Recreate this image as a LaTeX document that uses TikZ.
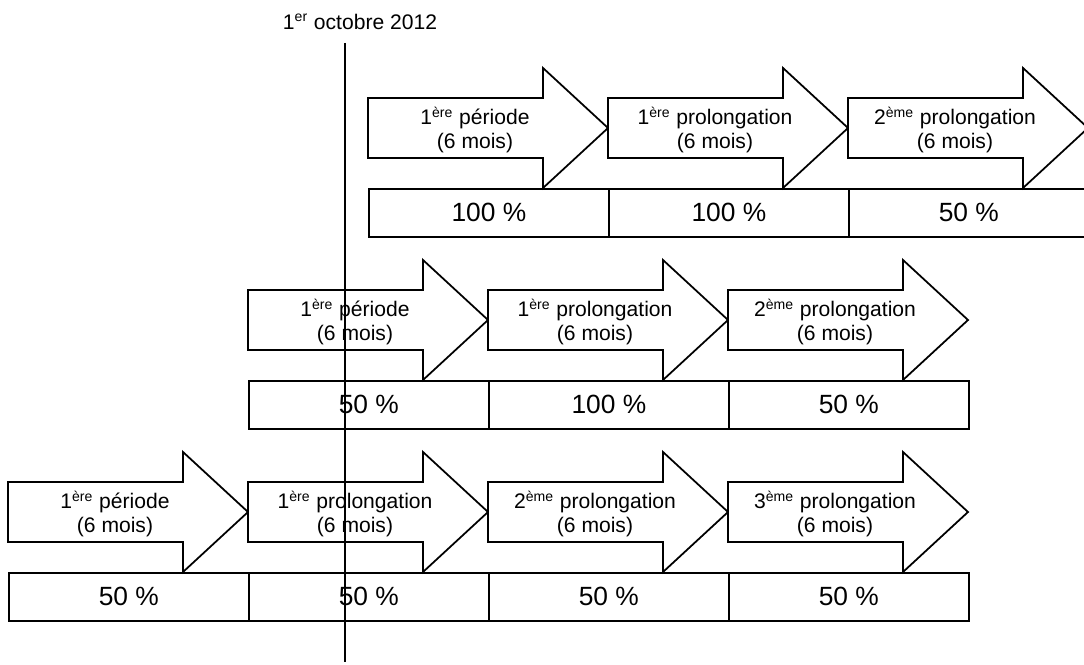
\documentclass[tikz,border=0pt]{standalone}
\usepackage{fontspec}
\setmainfont{Liberation Sans}
\usetikzlibrary{positioning}

\tikzset{
  fleche/.style={draw,fill=white},
  periode/.style={align=center,inner sep=0pt,font=\fontsize{12}{13.5}\selectfont},
  taux/.style={draw,anchor=north west,minimum width=4.8cm,minimum height=0.96cm,
    inner sep=0pt,font=\fontsize{15}{18}\selectfont}
}

% #1 name, #2 x, #3 y (middle of the arrow), #4 label, #5 percentage
\newcommand{\periode}[5]{%
  \draw[fleche] (#2,#3-30) -- ++(175,0) -- ++(0,-30) -- (#2+240,#3)
    -- (#2+175,#3+60) -- ++(0,-30) -- (#2,#3+30) -- cycle;
  \node[periode] (#1) at (#2+107,#3+2) {#4\\(6 mois)};
  \node[taux] (#1-taux) at (#2,#3+60) {#5 \%};
}
\newcommand{\ere}{1\textsuperscript{ère}}
\newcommand{\eme}[1]{#1\textsuperscript{ème}}

\begin{document}
\begin{tikzpicture}[x=0.02cm,y=-0.02cm,line width=1pt]
  \useasboundingbox (0,0) rectangle (1084,665);
  \clip (0,0) rectangle (1084,665);

  \periode{a1}{368}{128}{\ere{} période}{100}
  \periode{a2}{608}{128}{\ere{} prolongation}{100}
  \periode{a3}{848}{128}{\eme{2} prolongation}{50}

  \periode{b1}{248}{320}{\ere{} période}{50}
  \periode{b2}{488}{320}{\ere{} prolongation}{100}
  \periode{b3}{728}{320}{\eme{2} prolongation}{50}

  \periode{c1}{8}{512}{\ere{} période}{50}
  \periode{c2}{248}{512}{\ere{} prolongation}{50}
  \periode{c3}{488}{512}{\eme{2} prolongation}{50}
  \periode{c4}{728}{512}{\eme{3} prolongation}{50}

  \node[font=\fontsize{12}{14}\selectfont] (date) at (360,22) {1\textsuperscript{er} octobre 2012};
  \coordinate (haut) at (345,43);
  \coordinate (bas) at (345,662);
  \draw (haut) -- (bas);
\end{tikzpicture}
\end{document}
